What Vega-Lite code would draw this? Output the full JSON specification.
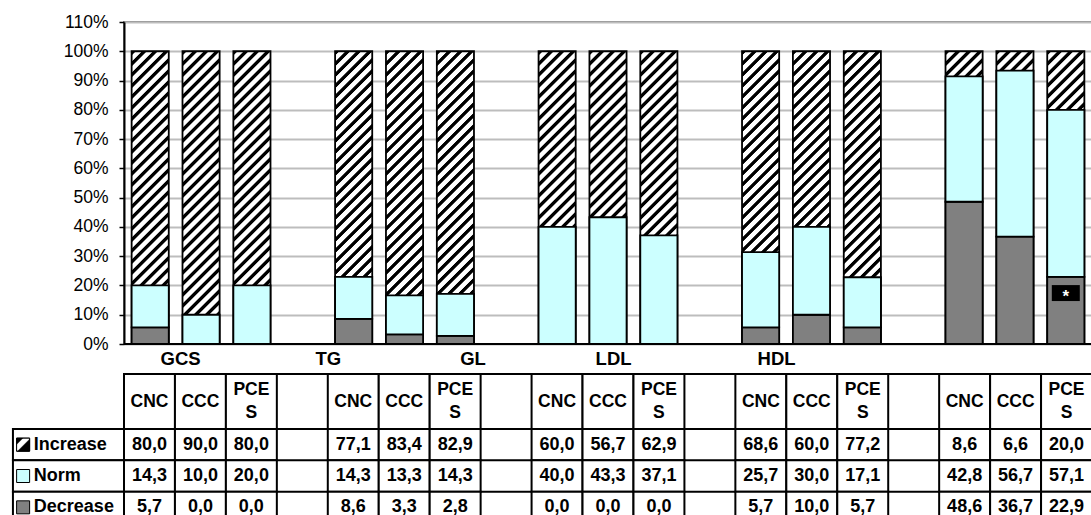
{
  "$schema": "https://vega.github.io/schema/vega-lite/v6.json",
  "background": "white",
  "autosize": {"type": "pad"},
  "padding": {"left": 10, "top": 12, "right": 0, "bottom": 0},
  "config": {
    "font": "Liberation Sans",
    "locale": {"number": {"decimal": ",", "thousands": " ", "grouping": [3], "currency": ["", ""]}},
    "view": {"stroke": null},
    "axisY": {"grid": true, "gridColor": "#bdbdbd", "gridWidth": 2, "labelOverlap": false, "labelFlush": false,
      "domainColor": "black", "domainWidth": 2, "tickColor": "black", "tickSize": 5, "tickWidth": 1.5,
      "labelFontSize": 17.5, "labelColor": "black", "labelPadding": 11, "labelFont": "Liberation Sans", "title": null}
  },
  "datasets": {
    "main": [
      {"grp": "GCS", "sub": "CNC", "Increase": 80.0, "Norm": 14.3, "Decrease": 5.7},
      {"grp": "GCS", "sub": "CCC", "Increase": 90.0, "Norm": 10.0, "Decrease": 0.0},
      {"grp": "GCS", "sub": "PCES", "Increase": 80.0, "Norm": 20.0, "Decrease": 0.0},
      {"grp": "TG", "sub": "CNC", "Increase": 77.1, "Norm": 14.3, "Decrease": 8.6},
      {"grp": "TG", "sub": "CCC", "Increase": 83.4, "Norm": 13.3, "Decrease": 3.3},
      {"grp": "TG", "sub": "PCES", "Increase": 82.9, "Norm": 14.3, "Decrease": 2.8},
      {"grp": "GL", "sub": "CNC", "Increase": 60.0, "Norm": 40.0, "Decrease": 0.0},
      {"grp": "GL", "sub": "CCC", "Increase": 56.7, "Norm": 43.3, "Decrease": 0.0},
      {"grp": "GL", "sub": "PCES", "Increase": 62.9, "Norm": 37.1, "Decrease": 0.0},
      {"grp": "LDL", "sub": "CNC", "Increase": 68.6, "Norm": 25.7, "Decrease": 5.7},
      {"grp": "LDL", "sub": "CCC", "Increase": 60.0, "Norm": 30.0, "Decrease": 10.0},
      {"grp": "LDL", "sub": "PCES", "Increase": 77.2, "Norm": 17.1, "Decrease": 5.7},
      {"grp": "HDL", "sub": "CNC", "Increase": 8.6, "Norm": 42.8, "Decrease": 48.6},
      {"grp": "HDL", "sub": "CCC", "Increase": 6.6, "Norm": 56.7, "Decrease": 36.7},
      {"grp": "HDL", "sub": "PCES", "Increase": 20.0, "Norm": 57.1, "Decrease": 22.9}
    ]
  },
  "spacing": 30,
  "bounds": "flush",
  "vconcat": [
    {
      "width": 968,
      "height": 322,
      "view": {"stroke": "#808080", "strokeWidth": 2},
      "resolve": {"scale": {"x": "independent"}},
      "layer": [
        {
          "encoding": {
            "x": {"field": "col", "type": "nominal", "scale": {"domain": ["GCS|CNC","GCS|CCC","GCS|PCES","gap1","TG|CNC","TG|CCC","TG|PCES","gap2","GL|CNC","GL|CCC","GL|PCES","gap3","LDL|CNC","LDL|CCC","LDL|PCES","gap4","HDL|CNC","HDL|CCC","HDL|PCES"], "paddingInner": 0.27, "paddingOuter": 0.15}, "axis": null}
          },
          "layer": [
            {
              "data": {"name": "main"},
              "transform": [
                {"fold": ["Decrease", "Norm", "Increase"], "as": ["series", "value"]},
                {"calculate": "datum.grp + '|' + datum.sub", "as": "col"},
                {"calculate": "indexof(['Decrease','Norm','Increase'], datum.series)", "as": "rank"},
                {"stack": "value", "groupby": ["col"], "sort": [{"field": "rank", "order": "ascending"}], "offset": "normalize", "as": ["y0", "y1"]},
                {"filter": "datum.series === 'Increase'"}
              ],
              "mark": {"type": "bar", "stroke": "black", "strokeWidth": 1.8, "fill": {"gradient": "linear", "x1": 0, "y1": 0, "x2": 0.1406, "y2": 1.109, "stops": [
                {"offset": 0, "color": "#000"},{"offset": 0.011, "color": "#000"},{"offset": 0.0143, "color": "#fff"},{"offset": 0.03, "color": "#fff"},
                {"offset": 0.0333, "color": "#000"},{"offset": 0.0443, "color": "#000"},{"offset": 0.0477, "color": "#fff"},{"offset": 0.0633, "color": "#fff"},
                {"offset": 0.0667, "color": "#000"},{"offset": 0.0777, "color": "#000"},{"offset": 0.081, "color": "#fff"},{"offset": 0.0967, "color": "#fff"},
                {"offset": 0.1, "color": "#000"},{"offset": 0.111, "color": "#000"},{"offset": 0.1143, "color": "#fff"},{"offset": 0.13, "color": "#fff"},
                {"offset": 0.1333, "color": "#000"},{"offset": 0.1443, "color": "#000"},{"offset": 0.1477, "color": "#fff"},{"offset": 0.1633, "color": "#fff"},
                {"offset": 0.1667, "color": "#000"},{"offset": 0.1777, "color": "#000"},{"offset": 0.181, "color": "#fff"},{"offset": 0.1967, "color": "#fff"},
                {"offset": 0.2, "color": "#000"},{"offset": 0.211, "color": "#000"},{"offset": 0.2143, "color": "#fff"},{"offset": 0.23, "color": "#fff"},
                {"offset": 0.2333, "color": "#000"},{"offset": 0.2443, "color": "#000"},{"offset": 0.2477, "color": "#fff"},{"offset": 0.2633, "color": "#fff"},
                {"offset": 0.2667, "color": "#000"},{"offset": 0.2777, "color": "#000"},{"offset": 0.281, "color": "#fff"},{"offset": 0.2967, "color": "#fff"},
                {"offset": 0.3, "color": "#000"},{"offset": 0.311, "color": "#000"},{"offset": 0.3143, "color": "#fff"},{"offset": 0.33, "color": "#fff"},
                {"offset": 0.3333, "color": "#000"},{"offset": 0.3443, "color": "#000"},{"offset": 0.3477, "color": "#fff"},{"offset": 0.3633, "color": "#fff"},
                {"offset": 0.3667, "color": "#000"},{"offset": 0.3777, "color": "#000"},{"offset": 0.381, "color": "#fff"},{"offset": 0.3967, "color": "#fff"},
                {"offset": 0.4, "color": "#000"},{"offset": 0.411, "color": "#000"},{"offset": 0.4143, "color": "#fff"},{"offset": 0.43, "color": "#fff"},
                {"offset": 0.4333, "color": "#000"},{"offset": 0.4443, "color": "#000"},{"offset": 0.4477, "color": "#fff"},{"offset": 0.4633, "color": "#fff"},
                {"offset": 0.4667, "color": "#000"},{"offset": 0.4777, "color": "#000"},{"offset": 0.481, "color": "#fff"},{"offset": 0.4967, "color": "#fff"},
                {"offset": 0.5, "color": "#000"},{"offset": 0.511, "color": "#000"},{"offset": 0.5143, "color": "#fff"},{"offset": 0.53, "color": "#fff"},
                {"offset": 0.5333, "color": "#000"},{"offset": 0.5443, "color": "#000"},{"offset": 0.5477, "color": "#fff"},{"offset": 0.5633, "color": "#fff"},
                {"offset": 0.5667, "color": "#000"},{"offset": 0.5777, "color": "#000"},{"offset": 0.581, "color": "#fff"},{"offset": 0.5967, "color": "#fff"},
                {"offset": 0.6, "color": "#000"},{"offset": 0.611, "color": "#000"},{"offset": 0.6143, "color": "#fff"},{"offset": 0.63, "color": "#fff"},
                {"offset": 0.6333, "color": "#000"},{"offset": 0.6443, "color": "#000"},{"offset": 0.6477, "color": "#fff"},{"offset": 0.6633, "color": "#fff"},
                {"offset": 0.6667, "color": "#000"},{"offset": 0.6777, "color": "#000"},{"offset": 0.681, "color": "#fff"},{"offset": 0.6967, "color": "#fff"},
                {"offset": 0.7, "color": "#000"},{"offset": 0.711, "color": "#000"},{"offset": 0.7143, "color": "#fff"},{"offset": 0.73, "color": "#fff"},
                {"offset": 0.7333, "color": "#000"},{"offset": 0.7443, "color": "#000"},{"offset": 0.7477, "color": "#fff"},{"offset": 0.7633, "color": "#fff"},
                {"offset": 0.7667, "color": "#000"},{"offset": 0.7777, "color": "#000"},{"offset": 0.781, "color": "#fff"},{"offset": 0.7967, "color": "#fff"},
                {"offset": 0.8, "color": "#000"},{"offset": 0.811, "color": "#000"},{"offset": 0.8143, "color": "#fff"},{"offset": 0.83, "color": "#fff"},
                {"offset": 0.8333, "color": "#000"},{"offset": 0.8443, "color": "#000"},{"offset": 0.8477, "color": "#fff"},{"offset": 0.8633, "color": "#fff"},
                {"offset": 0.8667, "color": "#000"},{"offset": 0.8777, "color": "#000"},{"offset": 0.881, "color": "#fff"},{"offset": 0.8967, "color": "#fff"},
                {"offset": 0.9, "color": "#000"},{"offset": 0.911, "color": "#000"},{"offset": 0.9143, "color": "#fff"},{"offset": 0.93, "color": "#fff"},
                {"offset": 0.9333, "color": "#000"},{"offset": 0.9443, "color": "#000"},{"offset": 0.9477, "color": "#fff"},{"offset": 0.9633, "color": "#fff"},
                {"offset": 0.9667, "color": "#000"},{"offset": 0.9777, "color": "#000"},{"offset": 0.981, "color": "#fff"},{"offset": 0.9967, "color": "#fff"},
                {"offset": 1, "color": "#000"}
              ]}},
              "encoding": {
                "y": {"field": "y1", "type": "quantitative", "title": null, "scale": {"domain": [0, 1.1], "nice": false, "zero": true},
                  "axis": {"values": [0, 0.1, 0.2, 0.3, 0.4, 0.5, 0.6, 0.7, 0.8, 0.9, 1.0, 1.1], "format": ".0%", "title": null}},
                "y2": {"datum": 0}
              }
            },
            {
              "data": {"name": "main"},
              "transform": [
                {"fold": ["Decrease", "Norm", "Increase"], "as": ["series", "value"]},
                {"calculate": "datum.grp + '|' + datum.sub", "as": "col"},
                {"calculate": "indexof(['Decrease','Norm','Increase'], datum.series)", "as": "rank"},
                {"stack": "value", "groupby": ["col"], "sort": [{"field": "rank", "order": "ascending"}], "offset": "normalize", "as": ["y0", "y1"]},
                {"filter": "datum.series !== 'Increase'"}
              ],
              "mark": {"type": "bar", "stroke": "black", "strokeWidth": 1.8},
              "encoding": {
                "y": {"field": "y0", "type": "quantitative", "title": null,
                  "axis": {"values": [0, 0.1, 0.2, 0.3, 0.4, 0.5, 0.6, 0.7, 0.8, 0.9, 1.0, 1.1], "format": ".0%", "title": null}},
                "y2": {"field": "y1"},
                "fill": {"field": "series", "type": "nominal", "scale": {"domain": ["Increase", "Norm", "Decrease"], "range": ["#000000", "#CCFFFF", "#808080"]}, "legend": null}
              }
            },
            {
              "data": {"values": [{"col": "HDL|PCES", "note": "*"}]},
              "mark": {"type": "point", "shape": "M-1,-0.57H1V0.57H-1Z", "size": 784, "filled": true, "fill": "black", "strokeWidth": 0, "opacity": 1},
              "encoding": {"y": {"datum": 0.174, "type": "quantitative", "title": null,
                "axis": {"values": [0, 0.1, 0.2, 0.3, 0.4, 0.5, 0.6, 0.7, 0.8, 0.9, 1.0, 1.1], "format": ".0%", "title": null}}}
            },
            {
              "data": {"values": [{"col": "HDL|PCES", "note": "*"}]},
              "mark": {"type": "text", "color": "white", "fontWeight": "bold", "fontSize": 17, "dy": 4},
              "encoding": {"y": {"datum": 0.174, "type": "quantitative", "title": null,
                "axis": {"values": [0, 0.1, 0.2, 0.3, 0.4, 0.5, 0.6, 0.7, 0.8, 0.9, 1.0, 1.1], "format": ".0%", "title": null}},
                "text": {"field": "note", "type": "nominal"}}
            }
          ]
        },
        {
          "data": {"values": [{"label": "axis"}]},
          "mark": {"type": "rule", "color": "black", "strokeWidth": 2},
          "encoding": {
            "x": {"datum": 0, "type": "quantitative", "scale": {"domain": [0, 19], "nice": false, "zero": false},
              "axis": {"values": [1.1, 4, 6.84, 9.6, 12.8], "labelExpr": "datum.value < 2 ? 'GCS' : datum.value < 5 ? 'TG' : datum.value < 8 ? 'GL' : datum.value < 11 ? 'LDL' : 'HDL'",
                "ticks": false, "domain": false, "grid": false, "title": null, "labelFontSize": 18.5, "labelFontWeight": "bold", "labelColor": "black",
                "labelPadding": 5, "labelOverlap": false, "labelFlush": false, "labelFont": "Liberation Sans"}},
            "x2": {"datum": 19},
            "y": {"datum": 0, "type": "quantitative", "title": null,
              "axis": {"values": [0, 0.1, 0.2, 0.3, 0.4, 0.5, 0.6, 0.7, 0.8, 0.9, 1.0, 1.1], "format": ".0%", "title": null}}
          }
        }
      ]
    },
    {
      "spacing": 0,
      "bounds": "flush",
      "vconcat": [
        {
          "width": 968,
          "height": 55,
          "view": {"stroke": "black", "strokeWidth": 2},
          "data": {"name": "main"},
          "transform": [
            {"calculate": "datum.grp + '|' + datum.sub", "as": "col"},
            {"calculate": "datum.sub === 'PCES' ? 'PCE\\nS' : datum.sub", "as": "hdr"}
          ],
          "encoding": {
            "x": {"field": "col", "type": "nominal", "scale": {"domain": ["GCS|CNC","GCS|CCC","GCS|PCES","gap1","TG|CNC","TG|CCC","TG|PCES","gap2","GL|CNC","GL|CCC","GL|PCES","gap3","LDL|CNC","LDL|CCC","LDL|PCES","gap4","HDL|CNC","HDL|CCC","HDL|PCES"], "paddingInner": 0, "paddingOuter": 0}, "axis": null}
          },
          "layer": [
            {"mark": {"type": "bar", "fill": "white", "stroke": "black", "strokeWidth": 2}},
            {"transform": [{"filter": "datum.sub !== 'PCES'"}],
             "mark": {"type": "text", "fontSize": 17.5, "fontWeight": "bold", "color": "black"},
             "encoding": {"text": {"field": "hdr", "type": "nominal"}}},
            {"transform": [{"filter": "datum.sub === 'PCES'"}],
             "mark": {"type": "text", "fontSize": 17.5, "fontWeight": "bold", "color": "black", "lineBreak": "\n", "lineHeight": 23, "dy": -11.5},
             "encoding": {"text": {"field": "hdr", "type": "nominal"}}}
          ]
        },
        {
          "width": 968,
          "height": 94,
          "view": {"stroke": "black", "strokeWidth": 2},
          "resolve": {"scale": {"x": "independent"}},
          "layer": [
            {
              "data": {"values": [{"series": "Increase"}, {"series": "Norm"}, {"series": "Decrease"}]},
              "mark": {"type": "rule", "color": "black", "strokeWidth": 2},
              "encoding": {"y": {"field": "series", "type": "nominal", "bandPosition": 0, "axis": null}}
            },
            {
              "data": {"name": "main"},
              "transform": [
                {"fold": ["Increase", "Norm", "Decrease"], "as": ["series", "value"]},
                {"calculate": "datum.grp + '|' + datum.sub", "as": "col"}
              ],
              "encoding": {
                "x": {"field": "col", "type": "nominal", "scale": {"domain": ["GCS|CNC","GCS|CCC","GCS|PCES","gap1","TG|CNC","TG|CCC","TG|PCES","gap2","GL|CNC","GL|CCC","GL|PCES","gap3","LDL|CNC","LDL|CCC","LDL|PCES","gap4","HDL|CNC","HDL|CCC","HDL|PCES"], "paddingInner": 0, "paddingOuter": 0}, "axis": null},
                "y": {"field": "series", "type": "nominal", "scale": {"domain": ["Increase", "Norm", "Decrease"], "paddingInner": 0, "paddingOuter": 0}, "axis": null}
              },
              "layer": [
                {"mark": {"type": "rect", "fill": "white", "stroke": "black", "strokeWidth": 2}},
                {"mark": {"type": "text", "fontSize": 18, "fontWeight": "bold", "color": "black"},
                 "encoding": {"text": {"field": "value", "type": "quantitative", "format": ".1f"}}}
              ]
            },
            {
              "data": {"values": [{"series": "Increase"}, {"series": "Norm"}, {"series": "Decrease"}]},
              "encoding": {"y": {"field": "series", "type": "nominal", "axis": null}},
              "layer": [
                {
                  "mark": {"type": "rect", "fill": "white", "stroke": "black", "strokeWidth": 2},
                  "encoding": {
                    "x": {"datum": -2.18, "type": "quantitative", "scale": {"domain": [0, 19], "nice": false, "zero": false}, "axis": null},
                    "x2": {"datum": 0}
                  }
                },
                {
                  "mark": {"type": "point", "shape": "square", "size": 169, "filled": true, "stroke": "black", "strokeWidth": 1, "opacity": 1},
                  "encoding": {
                    "x": {"datum": -1.98, "type": "quantitative"},
                    "fill": {"field": "series", "type": "nominal", "scale": {"domain": ["Increase", "Norm", "Decrease"], "range": ["#000000", "#CCFFFF", "#808080"]}, "legend": null}
                  }
                },
                {
                  "transform": [{"filter": "datum.series === 'Increase'"}],
                  "mark": {"type": "point", "shape": "square", "size": 169, "filled": true, "stroke": "black", "strokeWidth": 1, "opacity": 1,
                    "fill": {"gradient": "linear", "x1": 0, "y1": 0, "x2": 1, "y2": 1, "stops": [
                      {"offset": 0, "color": "#000"}, {"offset": 0.22, "color": "#000"}, {"offset": 0.28, "color": "#fff"},
                      {"offset": 0.5, "color": "#fff"}, {"offset": 0.56, "color": "#000"}, {"offset": 1, "color": "#000"}]}},
                  "encoding": {"x": {"datum": -1.98, "type": "quantitative"}}
                },
                {
                  "mark": {"type": "text", "align": "left", "fontSize": 18, "fontWeight": "bold", "color": "black"},
                  "encoding": {
                    "x": {"datum": -1.77, "type": "quantitative"},
                    "text": {"field": "series", "type": "nominal"}
                  }
                }
              ]
            }
          ]
        }
      ]
    }
  ]
}
